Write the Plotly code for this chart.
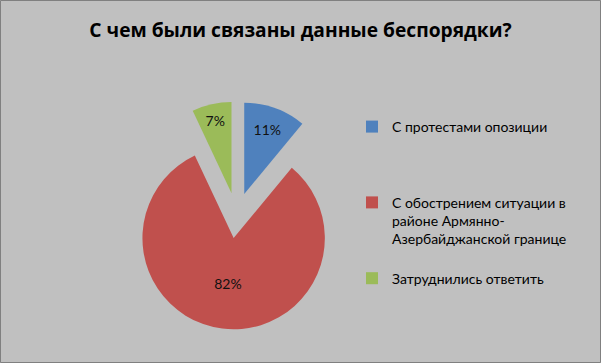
import plotly.graph_objects as go

title = "С чем были связаны данные беспорядки?"
labels = [
    "С протестами опозиции",
    "С обострением ситуации в<br>районе Армянно-<br>Азербайджанской границе",
    "Затруднились ответить",
]
values = [11, 82, 7]
colors = ["#4F81BD", "#C0504D", "#9BBB59"]

# legend spacing helpers (blank lines appended so entries spread like the original)
legend_labels = [
    labels[0] + "<br> <br> <br> ",
    labels[1] + "<br> ",
    labels[2],
]

W, H = 601, 363
cx, cy, size = 236.5, 215.5, 228
fig = go.Figure(go.Pie(
    labels=legend_labels,
    values=values,
    sort=False,
    direction="clockwise",
    rotation=0,
    pull=[0.25, 0.25, 0.25],
    marker=dict(colors=colors, line=dict(width=0)),
    textinfo="percent",
    textposition="inside",
    insidetextorientation="horizontal",
    insidetextfont=dict(family="Lato, Calibri, sans-serif", size=14, color="#111111"),
    domain=dict(x=[(cx - size / 2) / W, (cx + size / 2) / W],
                y=[1 - (cy + size / 2) / H, 1 - (cy - size / 2) / H]),
    hoverinfo="label+percent",
))

fig.update_layout(
    width=W, height=H,
    margin=dict(l=0, r=0, t=0, b=0),
    paper_bgcolor="#C0C0C0",
    plot_bgcolor="#C0C0C0",
    title=dict(text="<b>" + title + "</b>", x=0.5, xanchor="center",
               y=1 - 30 / H, yanchor="middle",
               font=dict(family="Open Sans, sans-serif", size=19.2, color="#000000")),
    legend=dict(x=352 / W, xanchor="left", y=1 - 111 / H, yanchor="top",
                valign="top", bgcolor="rgba(0,0,0,0)",
                font=dict(family="Lato, Calibri, sans-serif", size=14, color="#000000"),
                tracegroupgap=0),
    showlegend=True,
    shapes=[dict(type="rect", xref="paper", yref="paper", x0=0.5 / W, x1=1 - 0.5 / W,
                 y0=0.5 / H, y1=1 - 0.5 / H, line=dict(color="#808080", width=1))],
)

fig.write_html("out.html", post_script="document.body.style.margin='0';",
               config={"displayModeBar": False})
